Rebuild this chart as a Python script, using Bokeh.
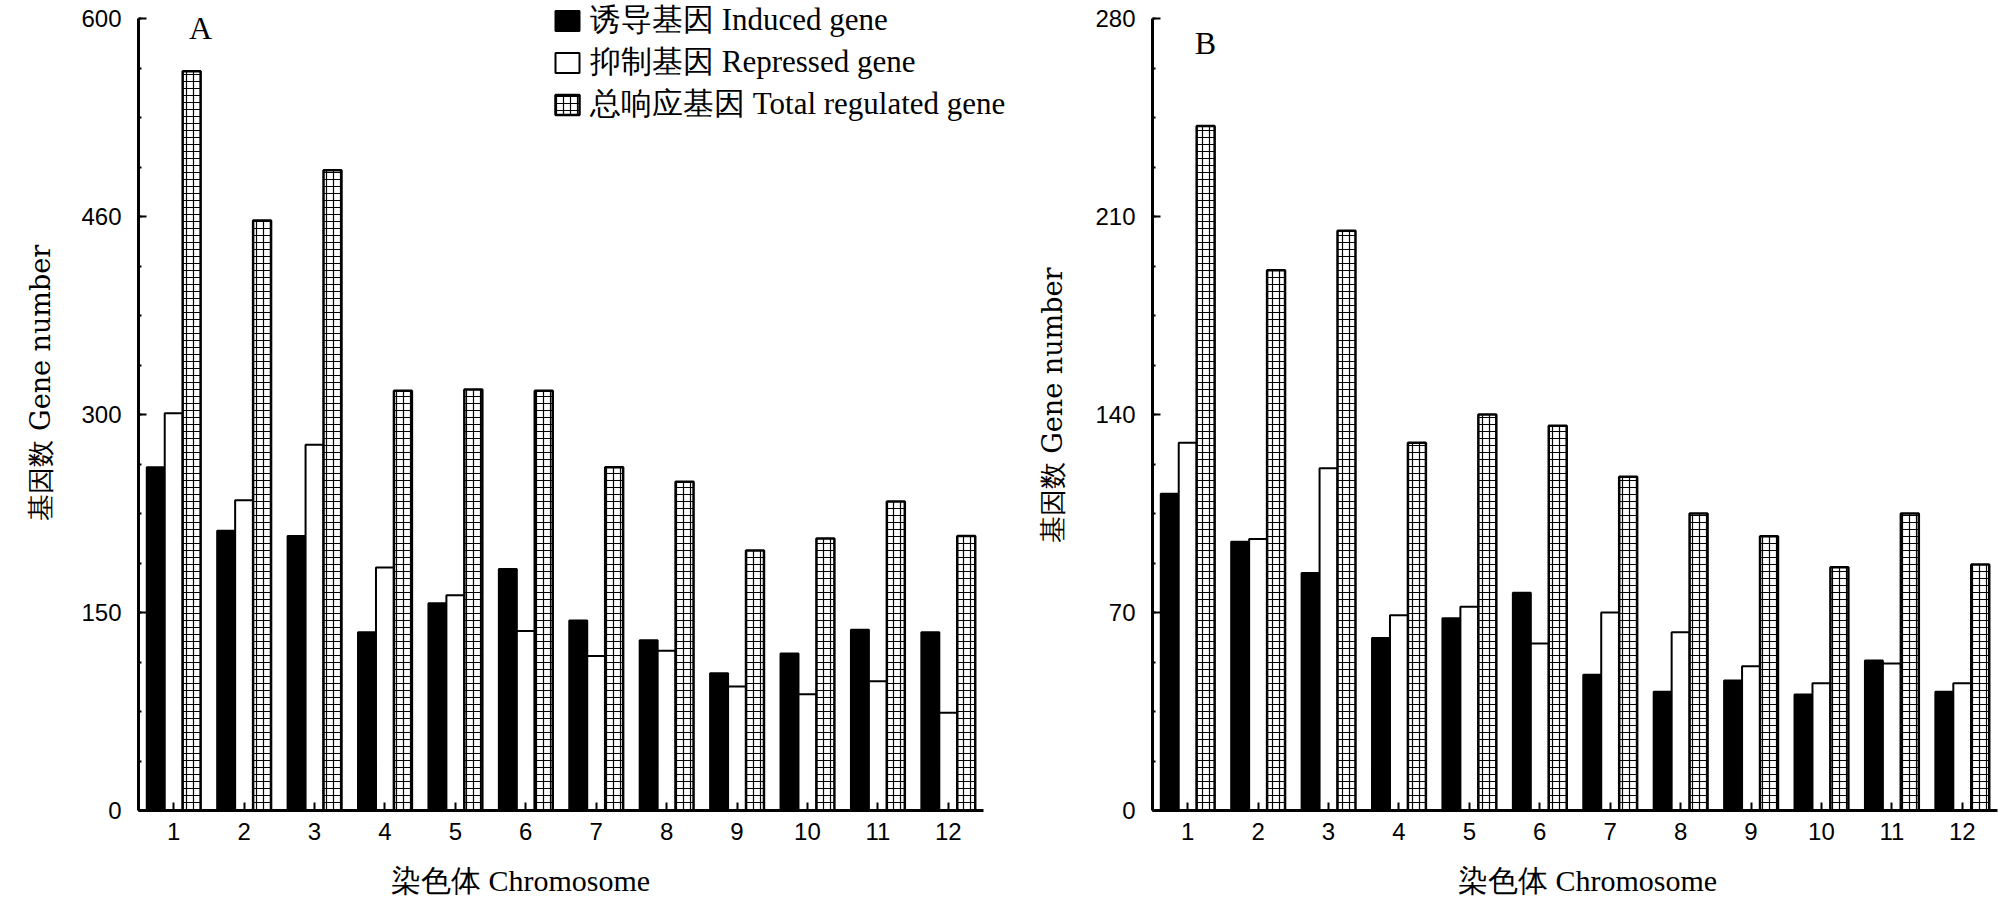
import math
from bokeh.plotting import figure
from bokeh.models import (ColumnDataSource, FixedTicker, Legend, LegendItem, Label,
                          Range1d, Title)
from bokeh.layouts import row, column
from bokeh.transform import dodge
from bokeh.embed import file_html
from bokeh.resources import INLINE

# ---------------- data ----------------
chromosomes = [1, 2, 3, 4, 5, 6, 7, 8, 9, 10, 11, 12]
chromosome_labels = ["1", "2", "3", "4", "5", "6", "7", "8", "9", "10", "11", "12"]

series_names = ["诱导基因 Induced gene", "抑制基因 Repressed gene", "总响应基因 Total regulated gene"]

a_induced = [260, 212, 208, 135, 157, 183, 144, 129, 104, 119, 137, 135]
a_repressed = [301, 235, 277, 184, 163, 136, 117, 121, 94, 88, 98, 74]
a_total = [560, 447, 485, 318, 319, 318, 260, 249, 197, 206, 234, 208]

b_induced = [112, 95, 84, 61, 68, 77, 48, 42, 46, 41, 53, 42]
b_repressed = [130, 96, 121, 69, 72, 59, 70, 63, 51, 45, 52, 45]
b_total = [242, 191, 205, 130, 140, 136, 118, 105, 97, 86, 105, 87]

a_y_ticks = [0, 150, 300, 450, 600]
a_y_tick_labels = ["0", "150", "300", "460", "600"]
b_y_ticks = [0, 70, 140, 210, 280]
b_y_tick_labels = ["0", "70", "140", "210", "280"]

x_title = "染色体 Chromosome"
y_title = "基因数 Gene number"

# ---------------- style / layout ----------------
SERIF = "Liberation Serif"
WIDE_SERIF = "DejaVu Serif"
SANS = "Liberation Sans"
BAR_W = 0.255
PX_PER_CAT = 845.0 / 12.0      # horizontal pixels per chromosome group
FRAME_H = 810                  # frame spans from canvas top down to the x axis
AXIS_TOP_GAP = 18              # pixels between canvas top and the top tick
A_LEFT, A_FRAME_W = 138, 892
B_LEFT, B_FRAME_W, B_RIGHT = 122, 845, 2
BOTTOM_H = 48


def make_panel(induced, repressed, total, yticks, ylabels, border_left, frame_w, border_right,
               panel_letter, letter_pos):
    ymax = yticks[-1]
    y_end = ymax * FRAME_H / (FRAME_H - AXIS_TOP_GAP)
    x_end = 0.5 + frame_w / PX_PER_CAT
    p = figure(frame_width=frame_w, frame_height=FRAME_H,
               min_border_left=border_left, min_border_right=border_right,
               min_border_top=0, min_border_bottom=40,
               x_range=Range1d(0.5, x_end), y_range=Range1d(0, y_end),
               output_backend="svg", toolbar_location=None)
    p.background_fill_color = "white"
    p.border_fill_color = "white"
    p.outline_line_color = None
    p.xgrid.visible = False
    p.ygrid.visible = False

    src = ColumnDataSource(dict(chrom=chromosomes, induced=induced,
                                repressed=repressed, total=total))
    r1 = p.vbar(x=dodge("chrom", -BAR_W, range=p.x_range), top="induced", bottom=0,
                width=BAR_W, source=src, fill_color="black", line_color="black", line_width=2)
    r2 = p.vbar(x=dodge("chrom", 0, range=p.x_range), top="repressed", bottom=0,
                width=BAR_W, source=src, fill_color="white", line_color="black", line_width=2)
    r3 = p.vbar(x=dodge("chrom", BAR_W, range=p.x_range), top="total", bottom=0,
                width=BAR_W, source=src, fill_color="white", line_color="black", line_width=2.5,
                hatch_pattern="+", hatch_color="black", hatch_scale=7, hatch_weight=1.2)

    step = (yticks[1] - yticks[0]) / 4.0
    minors = [i * step for i in range(int(round(ymax / step)) + 1)]

    ax = p.yaxis[0]
    ax.bounds = (0, ymax)
    ax.ticker = FixedTicker(ticks=yticks, minor_ticks=minors)
    ax.major_label_overrides = {t: l for t, l in zip(yticks, ylabels)}
    ax.axis_line_width = 3
    ax.axis_line_color = "black"
    ax.major_tick_in = 8
    ax.major_tick_out = 0
    ax.minor_tick_in = 3
    ax.minor_tick_out = 0
    ax.major_tick_line_width = 2
    ax.minor_tick_line_width = 2
    ax.major_label_standoff = 17
    ax.major_label_text_font = SANS
    ax.major_label_text_font_size = "24px"
    ax.major_label_text_color = "black"

    xa = p.xaxis[0]
    xa.bounds = (0.5, 12.5)
    xa.ticker = FixedTicker(ticks=chromosomes, minor_ticks=[])
    xa.major_label_overrides = {c: l for c, l in zip(chromosomes, chromosome_labels)}
    xa.axis_line_width = 3
    xa.axis_line_color = "black"
    xa.major_tick_in = 8
    xa.major_tick_out = 0
    xa.minor_tick_in = 0
    xa.minor_tick_out = 0
    xa.major_tick_line_width = 2
    xa.major_label_standoff = 12
    xa.major_label_text_font = SANS
    xa.major_label_text_font_size = "24px"
    xa.major_label_text_color = "black"

    p.add_layout(Label(x=letter_pos[0], y=letter_pos[1], text=panel_letter,
                       text_font=SERIF, text_font_size="32px", text_color="black",
                       text_align="center", text_baseline="middle"))
    return p, (r1, r2, r3)


pa, ra = make_panel(a_induced, a_repressed, a_total, a_y_ticks, a_y_tick_labels,
                    A_LEFT, A_FRAME_W, 0, "A", (1.38, 593))
pb, rb = make_panel(b_induced, b_repressed, b_total, b_y_ticks, b_y_tick_labels,
                    B_LEFT, B_FRAME_W, B_RIGHT, "B", (1.253, 271.2))

# y-axis title of panel A (placed as a side title so it can sit above centre)
pa.add_layout(Title(text=y_title, align="left", offset=290, vertical_align="middle",
                    standoff=43, text_font=WIDE_SERIF, text_font_size="27px",
                    text_font_style="normal", text_color="black"), "left")
# y-axis title of panel B
pb.yaxis[0].axis_label = y_title
pb.yaxis[0].axis_label_standoff = 24
pb.yaxis[0].axis_label_text_font = WIDE_SERIF
pb.yaxis[0].axis_label_text_font_size = "27px"
pb.yaxis[0].axis_label_text_font_style = "normal"
pb.yaxis[0].axis_label_text_color = "black"

legend = Legend(items=[LegendItem(label=series_names[0], renderers=[ra[0]]),
                       LegendItem(label=series_names[1], renderers=[ra[1]]),
                       LegendItem(label=series_names[2], renderers=[ra[2]])],
                location=(414, 685))
legend.glyph_width = 30
legend.glyph_height = 25
legend.label_height = 25
legend.label_standoff = 8
legend.padding = 0
legend.margin = 0
legend.spacing = 0
legend.border_line_alpha = 0
legend.background_fill_alpha = 0
legend.label_text_font = SERIF
legend.label_text_font_size = "31px"
legend.label_text_color = "black"
pa.add_layout(legend, "center")

# strip below both panels carrying the x-axis titles
total_w = A_LEFT + A_FRAME_W + B_LEFT + B_FRAME_W + B_RIGHT
pt = figure(frame_width=total_w, frame_height=BOTTOM_H, min_border=0,
            x_range=Range1d(0, total_w), y_range=Range1d(0, BOTTOM_H),
            x_axis_type=None, y_axis_type=None,
            output_backend="svg", toolbar_location=None)
pt.outline_line_color = None
pt.background_fill_color = "white"
pt.border_fill_color = "white"
for cx in (520, 1587):
    pt.add_layout(Label(x=cx, y=18, text=x_title, text_font=SERIF, text_font_size="30px",
                        text_color="black", text_align="center", text_baseline="middle"))

layout = column(row(pa, pb), pt)
open("out.html", "w").write(file_html(layout, INLINE))
